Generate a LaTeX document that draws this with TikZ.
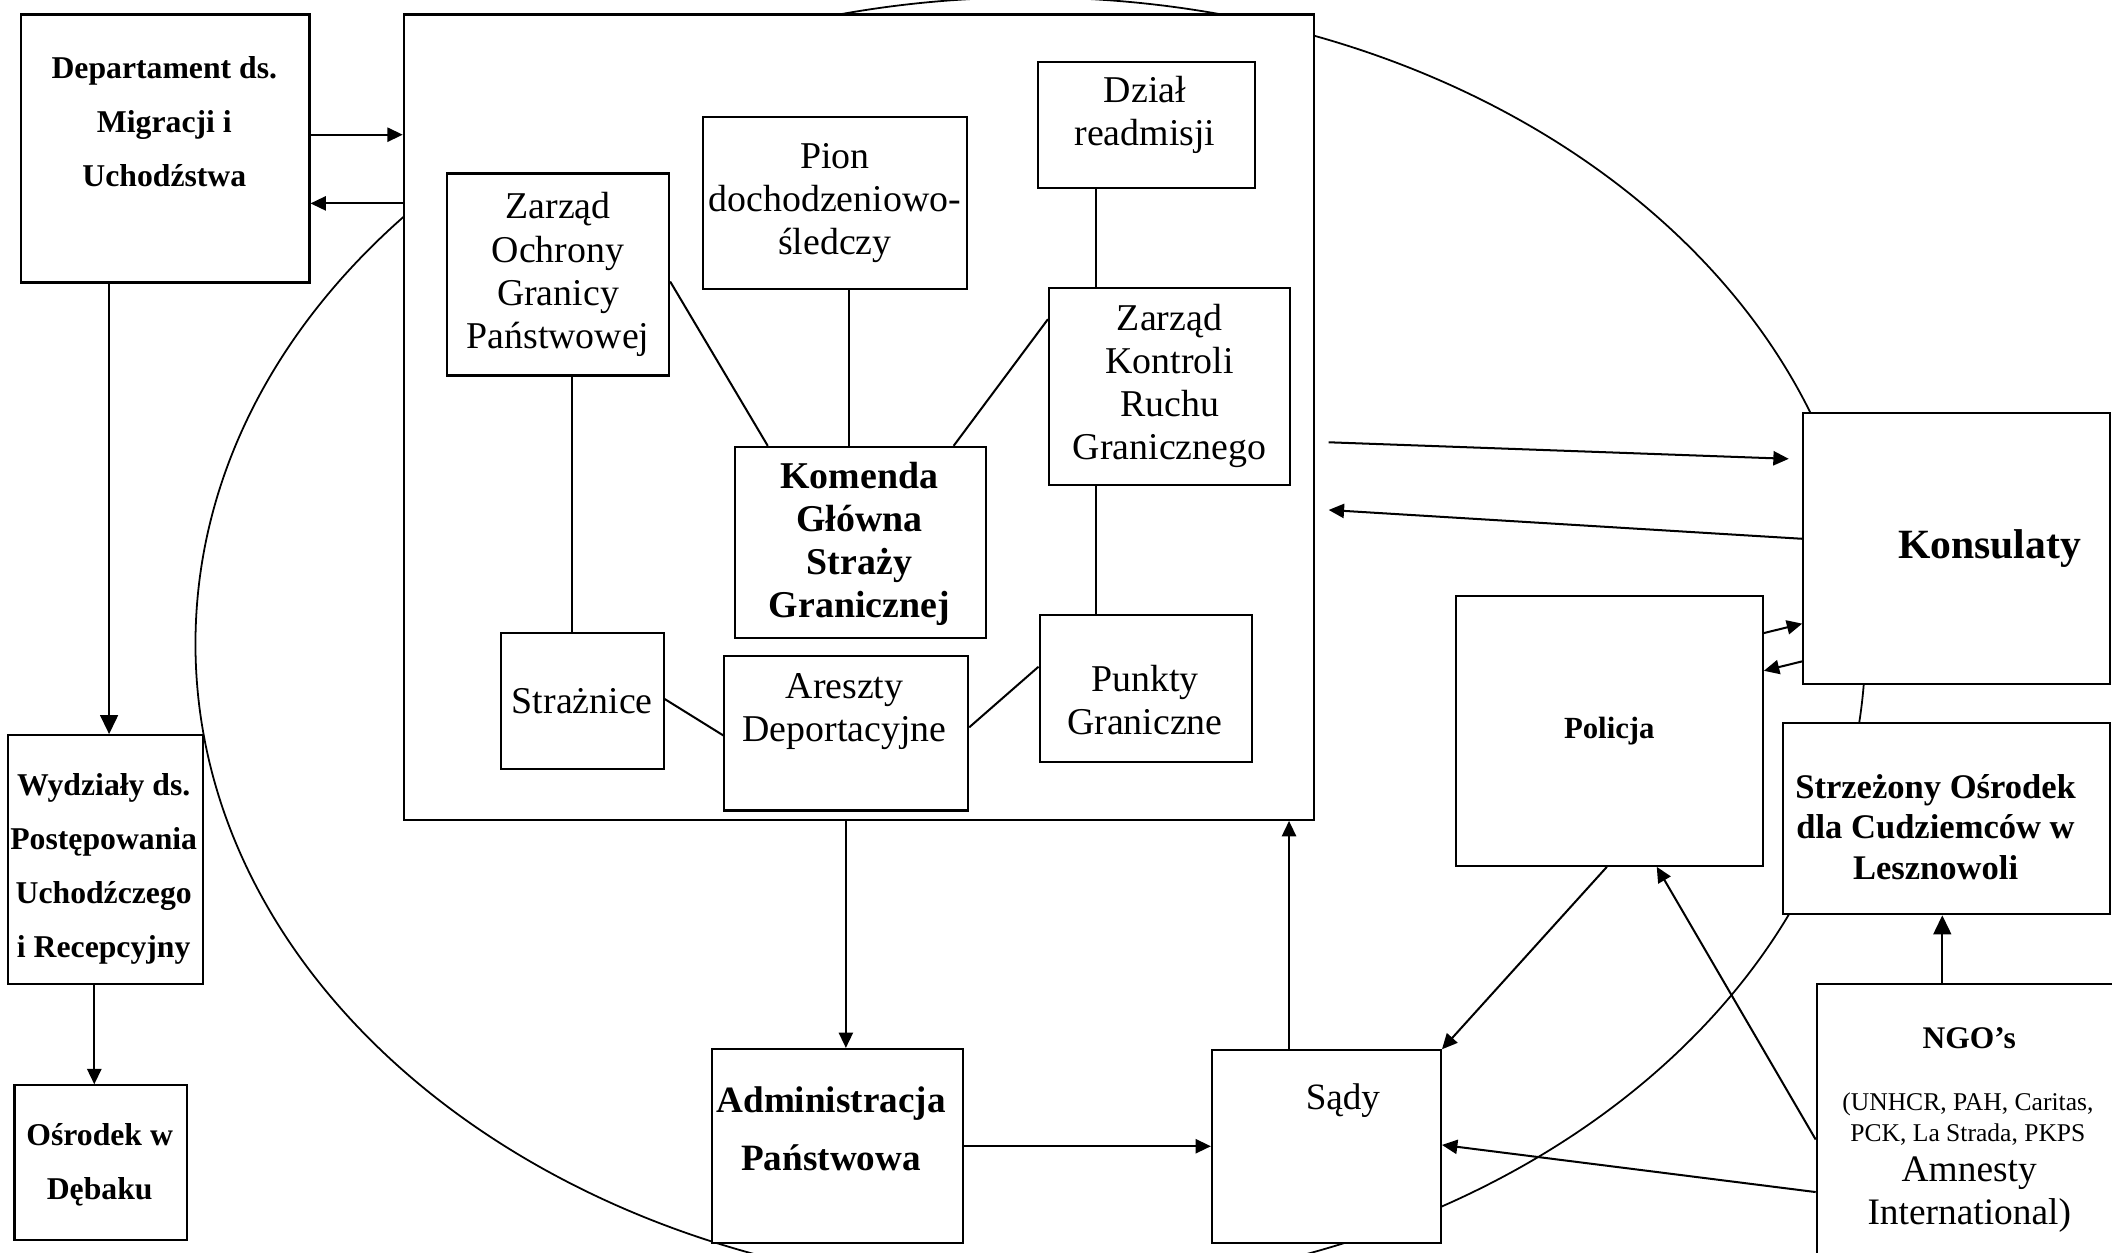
\documentclass[tikz,border=0pt]{standalone}
\usepackage{fontspec}
\setmainfont{Liberation Serif}
\usetikzlibrary{arrows.meta}

\newcommand{\txtinner}{\fontsize{16}{18.2}\selectfont}
\newcommand{\txtouter}{\bfseries\fontsize{13.4}{22.8}\selectfont}

\begin{document}
\begin{tikzpicture}[x=0.02cm, y=-0.02cm,
    box/.style={draw, fill=white, line width=0.9pt, inner sep=0pt, anchor=north west, align=center},
    lbl/.style={inner sep=0pt, align=center},
    link/.style={line width=0.85pt},
    arr/.style={line width=0.85pt, -{Triangle[length=6.5pt, width=6pt]}},
    bigarr/.style={line width=0.85pt, -{Triangle[length=8pt, width=7.5pt]}}]
    \useasboundingbox (0,0) rectangle (1568,930);
    \clip (0,0) rectangle (1568,930);
    \draw[line width=0.75pt] (765,478) ellipse [x radius=12.4cm, y radius=9.6cm];

    % left column
    \node[box, minimum width=4.28cm, minimum height=3.98cm] (dep) at (15,10) {};
    \node[lbl, font=\txtouter] (dep-t) at (122,90) {Departament ds.\\Migracji i\\Uchodźstwa};
    \node[box, minimum width=2.9cm, minimum height=3.7cm] (wyd) at (5,545) {};
    \node[lbl, font=\txtouter] (wyd-t) at (77,645) {Wydziały ds.\\Postępowania\\Uchodźczego\\i Recepcyjny};
    \node[box, minimum width=2.56cm, minimum height=2.3cm] (osr) at (10,805) {};
    \node[lbl, font=\txtouter] (osr-t) at (74,865) {Ośrodek w\\Dębaku};

    % Straz Graniczna
    \node[box, minimum width=13.52cm, minimum height=11.96cm] (big) at (299,10) {};
    \node[box, minimum width=3.3cm, minimum height=3cm, font=\txtinner] (zoch) at (331,128) {Zarząd\\Ochrony\\Granicy\\Państwowej};
    \node[box, minimum width=3.92cm, minimum height=2.56cm, font=\txtinner] (pion) at (521,86) {Pion\\dochodzeniowo-\\śledczy};
    \node[box, minimum width=3.22cm, minimum height=1.88cm] (dzial) at (770,45) {};
    \node[lbl, font=\txtinner] (dzial-t) at (850,85) {Dział\\readmisji};
    \node[box, minimum width=3.58cm, minimum height=2.92cm, font=\txtinner] (zkon) at (778,213) {Zarząd\\Kontroli\\Ruchu\\Granicznego};
    \node[box, minimum width=3.72cm, minimum height=2.84cm] (kom) at (545,331) {};
    \node[lbl, font=\txtinner\bfseries] (kom-t) at (638,404) {Komenda\\Główna\\Straży\\Granicznej};
    \node[box, minimum width=2.42cm, minimum height=2.02cm, font=\txtinner] (stra) at (371,469) {Strażnice};
    \node[box, minimum width=3.62cm, minimum height=2.3cm] (are) at (537,486) {};
    \node[lbl, font=\txtinner] (are-t) at (627,528) {Areszty\\Deportacyjne};
    \node[box, minimum width=3.16cm, minimum height=2.18cm] (pun) at (771,456) {};
    \node[lbl, font=\txtinner] (pun-t) at (850,520) {Punkty\\Graniczne};

    % bottom row
    \node[box, minimum width=3.72cm, minimum height=2.88cm] (adm) at (528,778) {};
    \node[lbl, font=\bfseries\fontsize{15.7}{24.5}\selectfont] (adm-t) at (617,838) {Administracja\\Państwowa};
    \node[box, minimum width=3.4cm, minimum height=2.86cm] (sady) at (899,779) {};
    \node[lbl, font=\fontsize{15.7}{18}\selectfont] (sady-t) at (997,817) {Sądy};

    % right side
    \node[box, minimum width=4.56cm, minimum height=4.02cm] (kons) at (1338,306) {};
    \node[lbl, font=\bfseries\fontsize{17.6}{20}\selectfont] (kons-t) at (1477,407) {Konsulaty};
    \node[box, minimum width=4.56cm, minimum height=4cm, font=\bfseries\fontsize{13}{15}\selectfont] (pol) at (1080,442) {Policja};
    \node[box, minimum width=4.86cm, minimum height=2.84cm] (strz) at (1323,536) {};
    \node[lbl, font=\bfseries\fontsize{14.6}{17}\selectfont] (strz-t) at (1437,614) {Strzeżony Ośrodek\\dla Cudziemców w\\Lesznowoli};
    \node[box, minimum width=4.64cm, minimum height=4.3cm] (ngo) at (1348,730) {};
    \node[lbl, font=\bfseries\fontsize{13.3}{16}\selectfont] (ngo-h) at (1462,771) {NGO’s};
    \node[lbl, font=\fontsize{10.8}{13}\selectfont] (ngo-l) at (1461,831) {(UNHCR, PAH, Caritas,\\PCK, La Strada, PKPS};
    \node[lbl, font=\fontsize{15.8}{18.2}\selectfont] (ngo-a) at (1462,887) {Amnesty\\International)};

    % links inside
    \draw[link] (zoch.south -| 425,0) -- (stra.north -| 425,0);
    \draw[link] (zoch.east |- 0,209) -- (kom.north -| 570,0);
    \draw[link] (pion.south -| 630,0) -- (kom.north -| 630,0);
    \draw[link] (zkon.west |- 0,237) -- (kom.north -| 708,0);
    \draw[link] (dzial.south -| 814,0) -- (zkon.north -| 814,0);
    \draw[link] (zkon.south -| 814,0) -- (pun.north -| 814,0);
    \draw[link] (stra.east |- 0,519) -- (are.west |- 0,546);
    \draw[link] (are.east |- 0,540) -- (pun.west |- 0,495);

    % arrows
    \draw[arr] (dep.east |- 0,100) -- (big.west |- 0,100);
    \draw[arr] (big.west |- 0,151) -- (dep.east |- 0,151);
    \draw[bigarr] (dep.south -| 81,0) -- (wyd.north -| 81,0);
    \draw[arr] (wyd.south -| 70,0) -- (osr.north -| 70,0);
    \draw[arr] (big.south -| 628,0) -- (adm.north -| 628,0);
    \draw[arr] (adm.east |- 0,851) -- (sady.west |- 0,851);
    \draw[arr] (sady.north -| 957,0) -- (big.south -| 957,0);
    \draw[arr, shorten <=5.7pt, shorten >=5.7pt] (big.east |- 0,328) -- (kons.west |- 0,341);
    \draw[arr, shorten >=5.7pt] (kons.west |- 0,400) -- (big.east |- 0,378);
    \draw[arr] (pol.east |- 0,470) -- (kons.west |- 0,463);
    \draw[arr] (kons.west |- 0,491) -- (pol.east |- 0,498);
    \draw[arr] (pol.south -| 1193,0) -- (sady.north east);
    \draw[arr] (ngo.west |- 0,846) -- (pol.south -| 1230,0);
    \draw[arr] (ngo.west |- 0,885) -- (sady.east |- 0,850);
    \draw[bigarr] (ngo.north -| 1442,0) -- (strz.south -| 1442,0);
\end{tikzpicture}
\end{document}
